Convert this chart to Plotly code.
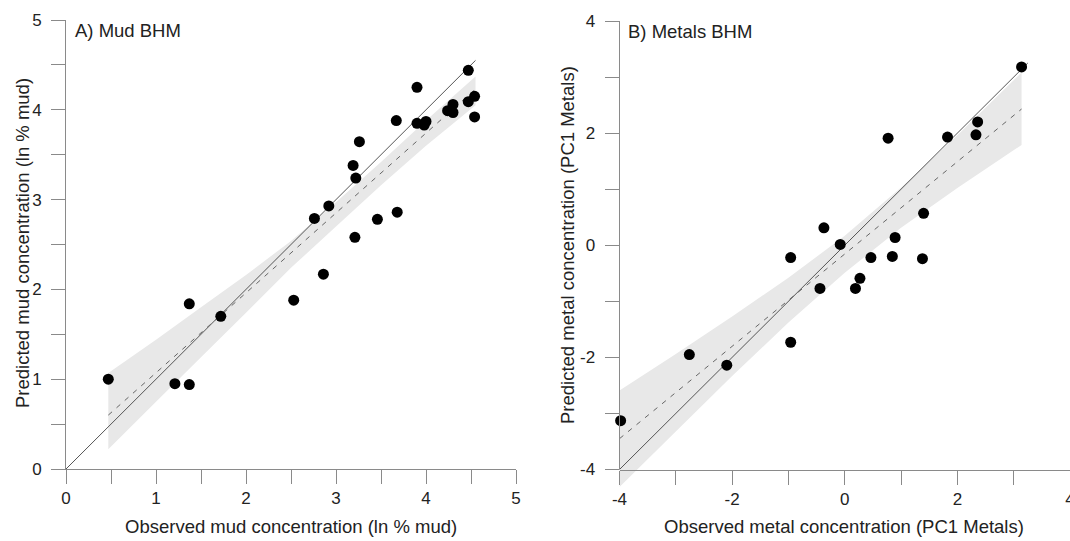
import plotly.graph_objects as go

# ---------------- data ----------------
mud_obs = [0.47, 1.21, 1.37, 1.37, 1.72, 2.53, 2.86, 2.76, 2.92, 3.21, 3.19, 3.22, 3.26, 3.46,
           3.68, 3.67, 3.90, 3.90, 3.98, 4.00, 4.24, 4.30, 4.30, 4.47, 4.47, 4.54, 4.54]
mud_pred = [1.00, 0.95, 0.94, 1.84, 1.70, 1.88, 2.17, 2.79, 2.93, 2.58, 3.38, 3.24, 3.645, 2.78,
            2.86, 3.88, 4.25, 3.85, 3.83, 3.87, 3.99, 4.06, 3.97, 4.09, 4.44, 4.15, 3.92]

mud_band_x = [0.47, 1.0, 1.5, 2.0, 2.5, 3.0, 3.5, 4.0, 4.55]
mud_band_hi = [1.07, 1.44, 1.80, 2.16, 2.54, 2.97, 3.42, 3.88, 4.37]
mud_band_lo = [0.22, 0.75, 1.25, 1.74, 2.24, 2.70, 3.16, 3.60, 4.05]
mud_fit_x = [0.47, 4.55]
mud_fit_y = [0.60, 4.23]
mud_one_x = [0.0, 4.55]
mud_one_y = [0.0, 4.55]

met_obs = [-3.98, -2.76, -2.095, -0.96, -0.96, -0.44, -0.37, -0.08, 0.19, 0.27,
           0.465, 0.845, 0.894, 0.77, 1.40, 1.38, 1.825, 2.33, 2.36, 3.14]
met_pred = [-3.13, -1.95, -2.14, -1.73, -0.22, -0.77, 0.31, 0.015, -0.77, -0.59,
            -0.22, -0.20, 0.138, 1.91, 0.57, -0.24, 1.93, 1.97, 2.20, 3.18]

met_band_x = [-4.0, -3.0, -2.0, -1.0, 0.0, 1.0, 2.0, 3.14]
met_band_hi = [-2.59, -1.94, -1.27, -0.58, 0.17, 1.03, 1.96, 3.08]
met_band_lo = [-4.31, -3.32, -2.33, -1.38, -0.49, 0.31, 1.02, 1.79]
met_fit_x = [-4.0, 3.14]
met_fit_y = [-3.45, 2.43]
met_one_x = [-4.0, 3.25]
met_one_y = [-4.0, 3.25]

mud_ticks = [0, 0.5, 1, 1.5, 2, 2.5, 3, 3.5, 4, 4.5, 5]
mud_labels = ["0", "", "1", "", "2", "", "3", "", "4", "", "5"]
met_ticks = [-4, -3, -2, -1, 0, 1, 2, 3, 4]
met_labels = ["-4", "", "-2", "", "0", "", "2", "", "4"]

# ---------------- layout geometry (pixels) ----------------
W, H = 1070, 541
def px(x):
    return x / W
def py(y):
    return 1 - y / H

A_left, A_right, A_top, A_bot = 66, 516, 20, 469
B_left, B_right, B_top, B_bot = 619.5, 1070, 21, 469.5
B_ymin = -4.45
B_scale = (B_bot - B_top) / 8.0
B_ext = B_bot + (-4 - B_ymin) * B_scale

BAND = "#e8e8e8"
LINE = "#555555"
AX = "#8a8a8a"
TXT = "#222222"
FONT = "Liberation Sans, Arial, sans-serif"

fig = go.Figure()

def add_panel(xa, ya, bx, bhi, blo, fx, fy, ox, oy, obs, pred):
    fig.add_trace(go.Scatter(x=bx + bx[::-1], y=bhi + blo[::-1], fill="toself",
                             fillcolor=BAND, line=dict(width=0), mode="lines",
                             hoverinfo="skip", showlegend=False, xaxis=xa, yaxis=ya))
    fig.add_trace(go.Scatter(x=ox, y=oy, mode="lines", line=dict(color=LINE, width=1),
                             showlegend=False, xaxis=xa, yaxis=ya))
    fig.add_trace(go.Scatter(x=fx, y=fy, mode="lines",
                             line=dict(color="#666666", width=1, dash="5px,6px"),
                             showlegend=False, xaxis=xa, yaxis=ya))
    fig.add_trace(go.Scatter(x=obs, y=pred, mode="markers",
                             marker=dict(color="black", size=11, line=dict(width=0)),
                             cliponaxis=False, showlegend=False, xaxis=xa, yaxis=ya))

add_panel("x", "y", mud_band_x, mud_band_hi, mud_band_lo, mud_fit_x, mud_fit_y,
          mud_one_x, mud_one_y, mud_obs, mud_pred)
add_panel("x2", "y2", met_band_x, met_band_hi, met_band_lo, met_fit_x, met_fit_y,
          met_one_x, met_one_y, met_obs, met_pred)

axis_common = dict(showgrid=False, zeroline=False, ticks="outside", ticklen=14,
                   tickwidth=1, tickcolor=AX, linecolor=AX, linewidth=1, automargin=False,
                   ticklabeloverflow="allow",
                   tickfont=dict(family=FONT, size=17, color=TXT))

fig.update_layout(
    width=W, height=H, margin=dict(l=0, r=0, t=0, b=0, autoexpand=False),
    paper_bgcolor="white", plot_bgcolor="white",
    xaxis=dict(domain=[px(A_left), px(A_right)], range=[0, 5], tickvals=mud_ticks,
               ticktext=mud_labels, showline=True, anchor="y", **axis_common),
    yaxis=dict(domain=[py(A_bot), py(A_top)], range=[0, 5], tickvals=mud_ticks,
               ticktext=mud_labels, showline=True, anchor="x", ticklabelstandoff=6,
               **axis_common),
    xaxis2=dict(domain=[px(B_left), px(B_right)], range=[-4, 4], tickvals=met_ticks,
                ticktext=met_labels, showline=True, anchor="free", position=py(B_bot),
                **axis_common),
    yaxis2=dict(domain=[py(B_ext), py(B_top)], range=[B_ymin, 4], tickvals=met_ticks,
                ticktext=met_labels, showline=False, anchor="x2", ticklabelstandoff=6,
                **axis_common),
    shapes=[dict(type="line", xref="paper", yref="paper", x0=px(B_left), x1=px(B_left),
                 y0=py(B_bot), y1=py(B_top), line=dict(color=AX, width=1))],
)

def ann(text, x, y, angle=0, xanchor="center"):
    fig.add_annotation(text=text, x=px(x), y=py(y), xref="paper", yref="paper",
                       showarrow=False, textangle=angle, xanchor=xanchor, yanchor="middle",
                       font=dict(family=FONT, size=18.5, color=TXT))

ann("A) Mud BHM", 73, 31, xanchor="left")
ann("B) Metals BHM", 626, 32, xanchor="left")
ann("Observed mud concentration (ln % mud)", 291, 526)
ann("Predicted mud concentration (ln % mud)", 22, 243, angle=-90)
ann("Observed metal concentration (PC1 Metals)", 844, 526)
ann("Predicted metal concentration (PC1 Metals)", 568, 245, angle=-90)

fig.write_html("out.html", config={"displayModeBar": False},
               post_script="document.body.style.margin='0';document.body.style.overflow='hidden';")
